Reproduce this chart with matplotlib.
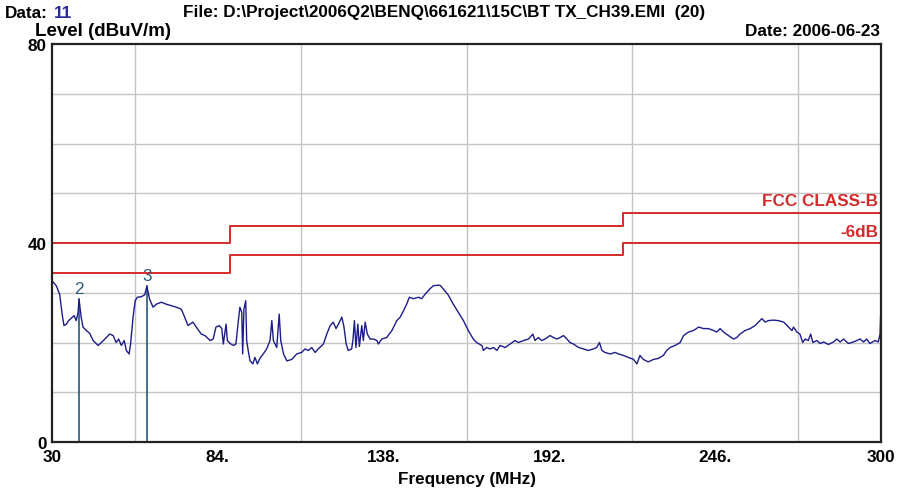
import matplotlib
matplotlib.use("Agg")
import matplotlib.pyplot as plt
import numpy as np

plt.rcParams['font.family'] = ['Liberation Sans', 'DejaVu Sans']

# Measured emission trace (MHz, dBuV/m)
freq = [30.3, 31.4, 32.5, 33.3, 33.9, 34.7, 35.4, 36.3, 37.2, 37.9, 38.5, 38.8, 39.5, 40.1,
        41.2, 42.3, 43.4, 45.0, 46.1, 47.2, 48.8, 49.9, 50.9, 51.7, 52.6, 53.5, 54.2, 55.1,
        55.6, 56.4, 57.1, 57.8, 59.1, 60.2, 60.9, 61.8, 62.9, 64.0, 65.6, 67.2, 68.9, 70.5,
        72.1, 73.2, 74.3, 75.9, 77.0, 78.6, 79.8, 81.5, 82.5, 83.4, 84.5, 85.3, 85.8, 86.7,
        87.1, 88.0, 89.1, 89.9, 90.7, 91.2, 91.8, 92.1, 92.5, 93.1, 93.4, 93.9, 94.5, 95.4,
        96.1, 96.9, 97.8, 98.8, 99.9, 101.0, 101.6, 102.1, 103.2, 104.0, 104.5, 105.4, 106.5,
        108.1, 109.7, 111.3, 112.4, 113.5, 114.6, 115.7, 116.7, 118.4, 119.5, 120.6, 121.6,
        122.5, 123.3, 124.4, 125.1, 125.8, 126.5, 127.6, 128.0, 128.5, 129.0, 129.6, 130.1,
        130.9, 131.4, 132.0, 132.7, 133.6, 134.7, 135.8, 136.3, 137.4, 139.0, 140.7, 142.3,
        143.4, 144.5, 145.5, 146.4, 147.7, 149.3, 150.4, 151.5, 153.1, 154.2, 155.3, 156.4,
        157.4, 159.1, 160.7, 162.3, 164.0, 165.6, 167.2, 168.3, 170.0, 170.5, 171.6, 172.7,
        173.8, 174.9, 175.9, 177.6, 179.2, 180.8, 181.9, 183.6, 185.2, 186.6, 187.3, 188.4,
        189.5, 190.6, 192.2, 193.3, 194.4, 195.5, 196.6, 197.7, 198.7, 199.8, 201.5, 203.1,
        204.7, 206.3, 207.4, 208.3, 209.1, 210.1, 211.8, 213.4, 214.5, 216.1, 217.8, 219.4,
        220.5, 221.5, 222.6, 224.2, 225.9, 227.5, 229.1, 230.2, 231.3, 232.9, 234.6, 235.7,
        237.3, 238.9, 240.6, 242.2, 243.8, 245.5, 246.5, 247.6, 248.7, 250.3, 252.0, 253.0,
        254.1, 255.7, 257.4, 259.0, 260.1, 261.2, 262.3, 263.3, 265.0, 266.6, 268.3, 269.9,
        271.0, 271.5, 272.6, 273.6, 274.5, 275.3, 276.3, 277.1, 277.8, 279.1, 280.2, 281.3,
        282.9, 284.5, 285.6, 286.7, 287.8, 289.4, 291.0, 292.1, 293.2, 294.3, 295.3, 296.4,
        298.1, 299.1, 299.7, 300.0]
level = [32.2, 31.4, 29.7, 25.7, 23.4, 23.7, 24.4, 24.9, 25.4, 24.4, 26.1, 28.7, 25.1, 23.1,
         22.4, 21.8, 20.4, 19.4, 20.0, 20.7, 21.7, 21.4, 20.0, 20.7, 19.4, 20.4, 18.4, 17.7,
         19.7, 25.1, 28.4, 29.1, 29.2, 29.6, 31.3, 28.7, 27.1, 27.7, 28.1, 27.7, 27.4, 27.1,
         26.7, 25.1, 23.4, 24.1, 23.1, 21.7, 21.4, 20.4, 20.7, 23.1, 23.4, 22.8, 19.7, 23.7,
         20.4, 19.8, 19.4, 19.7, 24.4, 27.1, 26.1, 17.7, 26.7, 28.4, 20.4, 18.4, 16.3, 15.7,
         17.0, 15.7, 16.9, 17.7, 18.7, 20.4, 24.4, 20.4, 19.0, 25.7, 20.4, 17.7, 16.3,
         16.6, 17.7, 18.0, 18.7, 18.4, 19.0, 18.0, 18.7, 19.7, 21.7, 23.4, 24.1,
         22.8, 23.7, 25.1, 23.1, 19.7, 18.4, 18.7, 20.4, 24.4, 19.0, 23.7, 19.2,
         23.4, 20.4, 24.1, 21.7, 20.7, 20.7, 20.4, 19.7, 20.7, 21.0, 22.4, 24.4,
         25.1, 26.4, 27.7, 29.1, 28.8, 29.1, 28.8, 29.7, 30.8, 31.4, 31.5, 31.5,
         30.8, 29.5, 27.7, 26.1, 24.4, 22.4, 20.7, 20.0, 19.4, 18.4, 19.0, 18.7,
         19.0, 18.4, 19.4, 19.0, 19.7, 20.4, 20.0, 20.4, 20.7, 21.7, 20.4, 21.0,
         20.4, 20.7, 21.4, 21.0, 20.7, 21.0, 21.4, 20.7, 20.0, 19.7, 19.0, 18.7,
         18.4, 18.7, 19.0, 20.0, 18.4, 18.0, 17.7, 18.0, 17.7, 17.4, 17.0, 16.6,
         15.7, 17.4, 16.6, 16.1, 16.6, 16.8, 17.4, 18.4, 19.0, 19.4, 20.0, 21.4,
         22.1, 22.4, 23.1, 22.8, 22.8, 22.4, 22.1, 22.8, 22.1, 21.4, 20.7, 21.0,
         21.7, 22.4, 22.8, 23.4, 24.1, 24.8, 24.1, 24.4, 24.5, 24.4, 24.1, 23.1,
         22.4, 23.1, 22.1, 21.7, 20.0, 20.7, 20.4, 21.7, 20.0, 20.4, 19.8, 20.1,
         19.6, 20.1, 20.7, 20.1, 20.7, 19.8, 20.1, 20.4, 20.7, 20.1, 20.7, 19.8,
         20.4, 20.1, 21.7, 28.1]

# FCC Class B limit steps and the -6 dB margin line
limit_freq = [30, 88, 88, 216, 216, 300]
limit_level = [40, 40, 43.5, 43.5, 46, 46]
margin_db = 6

# Marker positions
marker_ids = ["2", "3"]
marker_freq = [38.8, 60.9]
marker_level = [28.7, 31.3]

xtick_vals = [30, 84, 138, 192, 246, 300]
xtick_labels = ["30", "84.", "138.", "192.", "246.", "300"]
ytick_vals = [0, 40, 80]

trace_color = "#1c1c8a"
limit_color = "#d42a2a"
marker_color = "#2c5878"
fs = 12.3

fig = plt.figure(figsize=(8.98, 4.89), dpi=100)
ax = fig.add_axes([52 / 898, 1 - 443 / 489, (881 - 52) / 898, (443 - 45) / 489])

ax.set_xlim(30, 300)
ax.set_ylim(0, 80)

ax.set_xticks(np.arange(30, 301, 27), minor=True)
ax.set_yticks(np.arange(0, 81, 10), minor=True)
ax.set_xticks(xtick_vals)
ax.set_xticklabels(xtick_labels, fontweight="bold", fontsize=fs)
ax.set_yticks(ytick_vals)
ax.set_yticklabels([str(v) for v in ytick_vals], fontweight="bold", fontsize=fs)
ax.tick_params(which="both", length=0)
ax.tick_params(axis="x", pad=5)
ax.tick_params(axis="y", pad=4)
ax.grid(which="minor", color="#c4c4c4", lw=1.0)
ax.set_axisbelow(True)
for s in ax.spines.values():
    s.set_color("#222222")
    s.set_linewidth(1.6)

ax.plot(limit_freq, limit_level, color=limit_color, lw=1.4)
ax.plot(limit_freq, [v - margin_db for v in limit_level], color=limit_color, lw=1.4)
ax.text(299, 47.0, "FCC CLASS-B", color=limit_color, fontweight="bold", fontsize=fs,
        ha="right", va="bottom")
ax.text(299, 40.8, "-6dB", color=limit_color, fontweight="bold", fontsize=fs,
        ha="right", va="bottom")

for mid, mf, ml in zip(marker_ids, marker_freq, marker_level):
    ax.plot([mf, mf], [0, ml], color=marker_color, lw=1.2)
    ax.text(mf, ml + 0.6, mid, color=marker_color, fontsize=fs, ha="center", va="bottom")

ax.plot(freq, level, color=trace_color, lw=1.0)

ax.set_xlabel("Frequency (MHz)", fontweight="bold", fontsize=fs, labelpad=5)

fig.text(5 / 898, 1 - 13 / 489, "Data:", fontweight="bold", fontsize=fs, va="center")
fig.text(54 / 898, 1 - 13 / 489, "11", fontweight="bold", fontsize=fs, va="center",
         color="#2a2a9a")
fig.text(183 / 898, 1 - 13 / 489,
         "File: D:\\Project\\2006Q2\\BENQ\\661621\\15C\\BT TX_CH39.EMI  (20)",
         fontweight="bold", fontsize=fs, va="center")
fig.text(35 / 898, 1 - 31 / 489, "Level (dBuV/m)", fontweight="bold", fontsize=13.5,
         va="center")
fig.text(880 / 898, 1 - 32 / 489, "Date: 2006-06-23", fontweight="bold", fontsize=fs,
         va="center", ha="right")

fig.savefig("out.png", dpi=100)
